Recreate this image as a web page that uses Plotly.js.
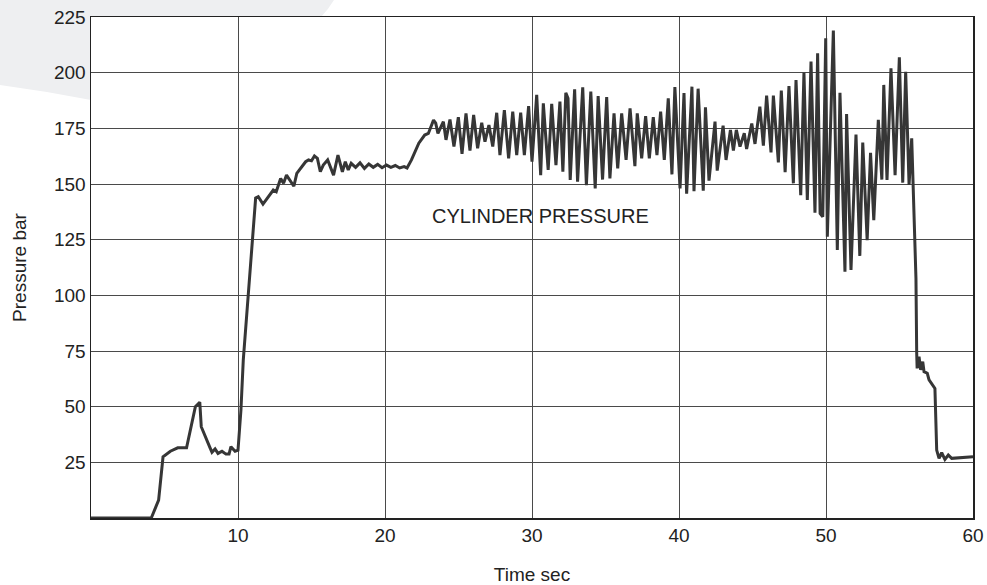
<!DOCTYPE html>
<html>
<head>
<meta charset="utf-8">
<script src="https://cdn.plot.ly/plotly-3.0.1.min.js"></script>
<style>html,body{margin:0;padding:0;background:#fff;}#chart{width:987px;height:585px;}</style>
</head>
<body>
<div id="chart"></div>
<script>
// Time (s)
const timeSec = [
  0, 4.1, 4.6, 4.9, 5.4, 5.9, 6.5, 7.1, 7.4, 7.5, 8.1, 8.23, 8.44, 8.64, 8.91, 9.18, 9.39, 9.52, 9.8, 10.0,
  10.2, 10.36, 11.2, 11.38, 11.7, 12.4, 12.6, 12.9, 13.1, 13.3, 13.8, 14.0, 14.6, 14.8, 15.0, 15.2, 15.4, 15.6, 15.8,
  16.1, 16.5, 16.8, 17.1, 17.3, 17.5, 17.7, 18.0, 18.3, 18.6, 18.9, 19.2, 19.5, 19.8, 20.1, 20.4, 20.7, 21.0, 21.3,
  21.5, 21.8, 22.3, 22.7, 22.95, 23.3, 23.45, 23.6,
  23.97, 24.15, 24.42, 24.69, 24.99, 25.24, 25.51, 25.78, 26.03, 26.3, 26.58, 26.8, 27.07, 27.33, 27.6, 27.82,
  28.12, 28.41, 28.69, 28.96, 29.23, 29.48, 29.77, 30.0, 30.32, 30.59,
  30.77, 31.1, 31.34, 31.63, 31.9, 32.1, 32.3, 32.45, 32.6, 32.9, 33.1, 33.45, 33.7, 34.0, 34.3, 34.5, 34.8, 35.08,
  35.3, 35.58, 35.83, 36.1, 36.4, 36.67, 37.0, 37.16, 37.46, 37.73, 37.98, 38.25, 38.5, 38.75, 39.0,
  39.27, 39.52, 39.72, 40.07, 40.34, 40.52, 40.88, 41.02, 41.3, 41.65, 41.8, 42.04, 42.45, 42.6, 43.0, 43.2, 43.5,
  43.7, 43.9, 44.15, 44.44, 44.6, 44.95, 45.17, 45.5, 45.74, 45.96, 46.26, 46.42, 46.76, 46.96, 47.22, 47.48,
  47.78, 47.96, 48.28, 48.5, 48.73, 48.98, 49.25, 49.43, 49.6, 49.78, 49.98, 50.09, 50.5, 50.77, 50.95, 51.29,
  51.4, 51.7, 52.04, 52.3, 52.5, 52.8, 53.03, 53.25, 53.56, 53.8, 53.93, 54.15, 54.42, 54.7, 54.99, 55.22, 55.42,
  55.65, 55.83, 56.12, 56.17, 56.2, 56.33, 56.44, 56.58, 56.67, 56.89, 57.01, 57.41, 57.53, 57.69, 57.87, 58.09,
  58.32, 58.55, 60
];
// Cylinder pressure (bar)
const pressureBar = [
  0, 0, 8, 27.5, 30, 31.5, 31.5, 50, 52, 41, 31.5, 29.5, 31, 29, 30, 28.7, 28.7, 32, 30, 30.5,
  48.5, 71, 143.7, 144.3, 141, 147.3, 146.5, 152.5, 150.3, 154, 149, 154.8, 160, 160.8, 160.4, 162.6, 161.5, 155.5, 158.5,
  160.8, 154, 163, 155.5, 160, 156.3, 159.3, 157.5, 159.5, 157, 159, 157.5, 158.8, 157.3, 158.5, 157.5, 158.3, 157.2, 157.8,
  157.2, 160.8, 168.3, 172, 172.7, 178.7, 177.3, 172.7,
  178, 169.8, 179, 166.8, 180, 163.5, 181.7, 165, 181, 166, 177.5, 169, 176.5, 166.8, 182, 163,
  183.2, 161.5, 182.5, 163, 182, 163, 185, 160, 190, 154,
  186.2, 156.3, 186, 158.5, 187, 155.5, 191, 188.5, 151.8, 192.5, 151, 193.4, 149.5, 191.5, 148, 189.5, 152, 189,
  152.5, 181.7, 157, 181.7, 160.8, 184, 158, 181.7, 161.5, 180.5, 161.5, 180, 163, 182.5, 160.8,
  188.5, 154.3, 193.5, 148, 190.8, 145.6, 193.7, 146.8, 192.8, 147, 184.4, 151.5, 178, 156, 176.2, 160.8, 174.3,
  165, 174.3, 166.8, 172.8, 165.7, 177.2, 168, 184.7, 167.2, 189.7, 164.2, 189.7, 159.7, 192, 155.3, 194,
  150.3, 196.7, 145, 200, 142.8, 205, 137.1, 208.7, 136.8, 135.3, 215.4, 126.3, 218.9, 120.4, 191, 110.6,
  181.4, 111.4, 172.2, 117.7, 168.6, 124.8, 164, 133.8, 178.8, 152, 194.5, 151.8, 202, 154, 206.9, 150.6, 200.4,
  149.6, 170.5, 107.6, 74, 67.2, 72.4, 66.5, 70.2, 65.7, 65, 62, 58.2, 30.5, 26.8, 29.3, 26.3,
  28.3, 26.8, 27.5
];
const xTickVals = [10, 20, 30, 40, 50, 60];
const xTickText = ['10', '20', '30', '40', '50', '60'];
const yTickVals = [25, 50, 75, 100, 125, 150, 175, 200, 225];
const yTickText = ['25', '50', '75', '100', '125', '150', '175', '200', '225'];
const seriesLabel = 'CYLINDER PRESSURE';

const W = 987, H = 585, L = 91, R = 14, T = 17, B = 67;
const pw = W - L - R, ph = H - T - B;
function px(x) { return ((x - L) / pw).toFixed(4); }
function py(y) { return ((H - B - y) / ph).toFixed(4); }
const decoPath = 'M ' + px(0) + ',' + py(0) + ' L ' + px(334) + ',' + py(0) +
  ' Q ' + px(328) + ',' + py(10) + ' ' + px(321) + ',' + py(T) +
  ' L ' + px(L) + ',' + py(T) + ' L ' + px(L) + ',' + py(100) +
  ' Q ' + px(45) + ',' + py(91) + ' ' + px(0) + ',' + py(85) + ' Z';

const font = 'Liberation Sans, Arial, Helvetica, sans-serif';

Plotly.newPlot('chart', [{
  x: timeSec, y: pressureBar, type: 'scatter', mode: 'lines',
  line: { color: '#363636', width: 3 }, hoverinfo: 'x+y'
}], {
  width: W, height: H,
  margin: { l: L, r: R, t: T, b: B },
  paper_bgcolor: '#ffffff', plot_bgcolor: '#ffffff',
  showlegend: false,
  font: { family: font, color: '#222', size: 19 },
  xaxis: {
    range: [0, 60], tickvals: xTickVals, ticktext: xTickText,
    showgrid: true, gridcolor: '#4a4a4a', gridwidth: 1,
    showline: true, linecolor: '#222', linewidth: 1.5, mirror: true,
    zeroline: false, ticks: '', tickfont: { size: 19, color: '#222', family: font },
    title: { text: 'Time sec', font: { size: 19, color: '#222', family: font }, standoff: 22 },
    automargin: false, fixedrange: true
  },
  yaxis: {
    range: [0, 225], tickvals: yTickVals, ticktext: yTickText,
    showgrid: true, gridcolor: '#4a4a4a', gridwidth: 1,
    showline: true, linecolor: '#222', linewidth: 1.5, mirror: true,
    zeroline: false, ticks: '', tickfont: { size: 19, color: '#222', family: font },
    title: { text: 'Pressure bar', font: { size: 19, color: '#222', family: font }, standoff: 22 },
    automargin: false, fixedrange: true
  },
  annotations: [{
    x: 30.6, y: 135.6, xref: 'x', yref: 'y', text: seriesLabel, showarrow: false,
    font: { size: 20, color: '#222', family: font }
  }],
  shapes: [{
    type: 'path', xref: 'paper', yref: 'paper', path: decoPath,
    fillcolor: '#eeeff1', line: { width: 0 }, layer: 'below'
  }]
}, { displayModeBar: false, staticPlot: true });
</script>
</body>
</html>
